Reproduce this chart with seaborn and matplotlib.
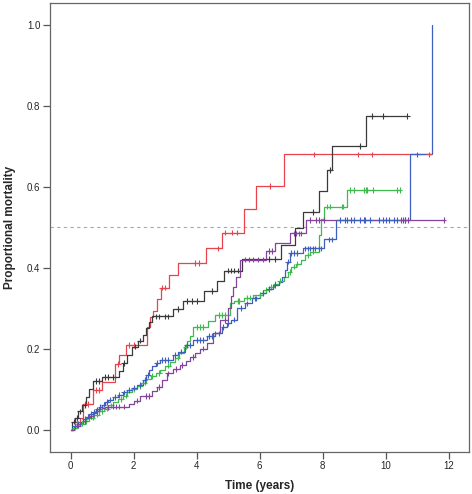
import numpy as np
import pandas as pd
import matplotlib
matplotlib.use("Agg")
import matplotlib.pyplot as plt
import seaborn as sns

# step curves: time of each event and cumulative mortality after it
red_t = [0, 0.1, 0.2, 0.3, 0.4, 0.72, 1.0, 1.4, 1.55, 1.76, 2.42, 2.52, 2.63, 2.73, 2.88, 3.13, 3.4, 4.3, 4.8, 5.49, 5.9, 6.76]
red_y = [0, 0.01, 0.02, 0.03, 0.063, 0.098, 0.118, 0.162, 0.184, 0.209, 0.254, 0.278, 0.293, 0.323, 0.351, 0.382, 0.412, 0.448, 0.487, 0.544, 0.602, 0.68]
red_end = 11.45
red_cens = [0.2, 0.45, 0.55, 0.8, 0.9, 1.5, 1.85, 2.0, 2.9, 3.0, 3.95, 4.08, 4.68, 4.9, 5.12, 5.29, 6.33, 7.73, 9.12, 9.56, 11.38]

black_t = [0, 0.05, 0.15, 0.25, 0.35, 0.5, 0.6, 0.7, 1.0, 1.55, 1.65, 1.8, 1.95, 2.15, 2.3, 2.4, 2.5, 2.6, 3.26, 3.58, 4.25, 4.66, 4.87, 5.43, 6.68, 7.12, 7.37, 7.88, 8.13, 8.29, 9.38]
black_y = [0, 0.02, 0.03, 0.045, 0.06, 0.08, 0.1, 0.12, 0.13, 0.145, 0.165, 0.185, 0.205, 0.22, 0.235, 0.25, 0.265, 0.28, 0.298, 0.318, 0.343, 0.366, 0.393, 0.422, 0.455, 0.497, 0.538, 0.59, 0.641, 0.701, 0.775]
black_end = 10.67
black_cens = [0.1, 0.2, 0.3, 0.45, 0.8, 0.9, 1.1, 1.2, 1.35, 1.7, 2.05, 2.2, 2.7, 2.8, 3.0, 3.1, 3.4, 3.7, 3.85, 4.0, 4.5, 5.0, 5.1, 5.2, 5.3, 6.3, 6.5, 7.7, 8.24, 9.19, 9.56, 9.91, 10.67]

green_t = [0, 0.1, 0.2, 0.3, 0.45, 0.6, 0.75, 0.9, 1.05, 1.2, 1.35, 1.5, 1.65, 1.8, 1.95, 2.1, 2.25, 2.4, 2.55, 2.7, 2.85, 3.0, 3.15, 3.3, 3.45, 3.6, 3.7, 3.8, 3.9, 4.35, 4.6, 5.05, 5.2, 5.5, 5.8, 6.1, 6.3, 6.45, 6.6, 6.76, 6.9, 7.0, 7.15, 7.3, 7.45, 7.6, 7.87, 7.95, 8.05, 8.77]
green_y = [0, 0.005, 0.01, 0.015, 0.022, 0.03, 0.037, 0.045, 0.052, 0.06, 0.068, 0.076, 0.084, 0.092, 0.1, 0.108, 0.116, 0.124, 0.132, 0.14, 0.148, 0.158, 0.168, 0.178, 0.19, 0.205, 0.218, 0.232, 0.254, 0.268, 0.283, 0.312, 0.318, 0.326, 0.333, 0.345, 0.352, 0.361, 0.368, 0.378, 0.39, 0.403, 0.41, 0.419, 0.431, 0.44, 0.48, 0.52, 0.551, 0.592]
green_end = 10.46
green_cens = [0.15, 0.35, 0.5, 0.7, 0.85, 1.0, 1.15, 1.3, 1.6, 1.75, 2.0, 2.2, 2.35, 2.6, 2.8, 3.1, 3.4, 3.65, 4.0, 4.1, 4.2, 4.7, 4.8, 4.9, 5.3, 5.35, 5.6, 5.7, 6.0, 6.2, 6.35, 6.5, 6.65, 6.95, 7.1, 7.2, 7.55, 7.7, 8.13, 8.24, 8.6, 8.65, 8.87, 9.0, 9.3, 9.38, 9.42, 9.59, 10.36, 10.44]

blue_t = [0, 0.05, 0.1, 0.2, 0.3, 0.4, 0.5, 0.6, 0.7, 0.8, 0.9, 1.0, 1.1, 1.2, 1.35, 1.5, 1.65, 1.8, 1.95, 2.1, 2.3, 2.4, 2.5, 2.6, 2.7, 2.84, 3.26, 3.4, 3.63, 3.9, 4.32, 4.59, 4.8, 4.96, 5.1, 5.28, 5.54, 5.75, 6.02, 6.2, 6.44, 6.6, 6.7, 6.8, 6.86, 6.97, 7.39, 8.05, 8.43, 10.76, 11.47]
blue_y = [0, 0.005, 0.01, 0.015, 0.02, 0.026, 0.032, 0.038, 0.044, 0.05, 0.056, 0.062, 0.068, 0.074, 0.08, 0.086, 0.092, 0.098, 0.104, 0.11, 0.123, 0.135, 0.148, 0.158, 0.165, 0.172, 0.184, 0.193, 0.209, 0.222, 0.231, 0.238, 0.254, 0.263, 0.272, 0.3, 0.312, 0.324, 0.337, 0.347, 0.357, 0.365, 0.378, 0.395, 0.415, 0.436, 0.448, 0.47, 0.518, 0.68, 1.0]
blue_cens = [0.15, 0.25, 0.45, 0.55, 0.65, 0.75, 0.85, 0.95, 1.05, 1.15, 1.25, 1.4, 1.55, 1.7, 1.85, 2.0, 2.2, 2.35, 2.45, 2.75, 2.9, 3.0, 3.1, 3.3, 3.5, 3.7, 3.8, 4.0, 4.1, 4.2, 4.4, 4.5, 4.7, 4.85, 5.0, 5.2, 5.4, 5.6, 5.85, 5.9, 6.1, 6.3, 6.5, 6.9, 7.0, 7.1, 7.2, 7.45, 7.55, 7.6, 7.7, 7.75, 7.9, 7.95, 8.2, 8.3, 8.55, 8.7, 8.77, 8.9, 9.0, 9.2, 9.3, 9.35, 9.5, 9.8, 9.9, 10.0, 10.1, 10.25, 10.35, 10.55, 10.6, 10.99]

purple_t = [0, 0.1, 0.2, 0.3, 0.4, 0.5, 0.6, 0.7, 0.8, 0.9, 1.0, 1.1, 1.25, 1.84, 2.0, 2.2, 2.58, 2.73, 2.9, 3.05, 3.25, 3.47, 3.65, 3.79, 3.95, 4.11, 4.32, 4.53, 4.75, 5.01, 5.1, 5.17, 5.25, 5.38, 6.2, 6.49, 6.97, 7.46]
purple_y = [0, 0.005, 0.01, 0.016, 0.022, 0.028, 0.034, 0.04, 0.045, 0.05, 0.053, 0.055, 0.057, 0.063, 0.072, 0.083, 0.095, 0.106, 0.123, 0.139, 0.15, 0.16, 0.17, 0.18, 0.19, 0.2, 0.213, 0.238, 0.271, 0.3, 0.33, 0.353, 0.378, 0.42, 0.441, 0.46, 0.485, 0.518]
purple_end = 11.84
purple_cens = [0.25, 0.45, 0.65, 0.85, 1.2, 1.35, 1.45, 1.55, 1.7, 2.1, 2.4, 2.5, 2.8, 3.1, 3.35, 3.55, 3.9, 4.2, 4.6, 4.9, 5.55, 5.65, 5.8, 5.95, 6.1, 6.3, 6.4, 7.1, 7.15, 7.25, 7.3, 7.6, 7.8, 7.9, 8.05, 10.5, 10.6, 10.7, 11.84]

colors = {
    "red": "#e8434e",
    "black": "#3a3a3a",
    "green": "#3dbb4e",
    "blue": "#3f5fbf",
    "purple": "#84449c",
}


def build_frames():
    curves = {
        "red": (red_t + [red_end], red_y + [red_y[-1]], red_cens),
        "black": (black_t + [black_end], black_y + [black_y[-1]], black_cens),
        "green": (green_t + [green_end], green_y + [green_y[-1]], green_cens),
        "blue": (blue_t, blue_y, blue_cens),
        "purple": (purple_t + [purple_end], purple_y + [purple_y[-1]], purple_cens),
    }
    lines, marks = [], []
    for name, (t, y, cens) in curves.items():
        lines.append(pd.DataFrame({"group": name, "time": t, "mort": y}))
        t_arr, y_arr = np.array(t), np.array(y)
        idx = np.searchsorted(t_arr, cens, side="right") - 1
        marks.append(pd.DataFrame({"group": name, "time": cens, "mort": y_arr[idx]}))
    return pd.concat(lines, ignore_index=True), pd.concat(marks, ignore_index=True)


def main():
    sns.set_style("ticks")
    plt.rcParams["font.family"] = ["Liberation Sans", "DejaVu Sans"]

    lines, marks = build_frames()

    fig = plt.figure(figsize=(4.72, 4.94), dpi=100)
    ax = fig.add_axes([0.106, 0.086, 0.888, 0.908])

    ax.axhline(0.5, color="#a8a8a8", lw=0.8, ls=(0, (3, 3)), zorder=1)

    sns.lineplot(
        data=lines, x="time", y="mort", hue="group", palette=colors,
        estimator=None, sort=False, drawstyle="steps-post",
        linewidth=0.9, legend=False, ax=ax
    )
    sns.scatterplot(
        data=marks, x="time", y="mort", hue="group", palette=colors,
        marker="+", s=16, linewidth=0.8, legend=False, ax=ax, zorder=3
    )

    ax.set_xlim(-0.65, 12.65)
    ax.set_ylim(-0.054, 1.054)
    ax.set_xticks([0, 2, 4, 6, 8, 10, 12])
    ax.set_yticks([0.0, 0.2, 0.4, 0.6, 0.8, 1.0])
    ax.set_yticklabels(["0.0", "0.2", "0.4", "0.6", "0.8", "1.0"])
    ax.tick_params(labelsize=7, length=5, width=0.9, color="#555555", pad=2)
    for sp in ax.spines.values():
        sp.set_visible(True)
        sp.set_color("#666666")
        sp.set_linewidth(0.9)

    ax.set_xlabel("Time (years)", fontsize=8.5, fontweight="bold", labelpad=6)
    ax.set_ylabel("Proportional mortality", fontsize=8.5, fontweight="bold", labelpad=8)

    fig.savefig("out.png", dpi=100)


if __name__ == "__main__":
    main()
